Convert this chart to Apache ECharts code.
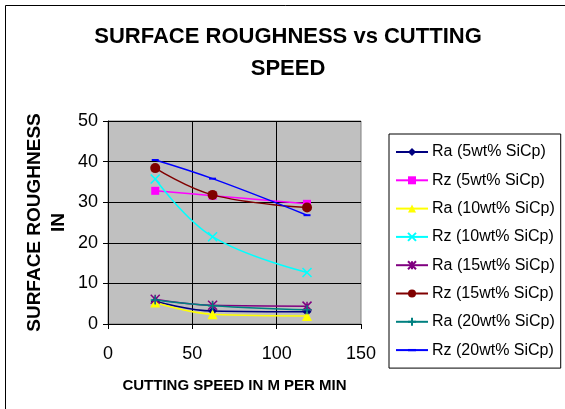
<!DOCTYPE html>
<html>
<head>
<meta charset="utf-8">
<script src="https://cdn.jsdelivr.net/npm/echarts@6/dist/echarts.min.js"></script>
<style>
html,body{margin:0;padding:0;background:#fff;}
#c{width:565px;height:409px;}
</style>
</head>
<body>
<div id="c"></div>
<script>
var speeds = [28, 62, 118];
var seriesNames = ['Ra (5wt% SiCp)', 'Rz (5wt% SiCp)', 'Ra (10wt% SiCp)', 'Rz (10wt% SiCp)', 'Ra (15wt% SiCp)', 'Rz (15wt% SiCp)', 'Ra (20wt% SiCp)', 'Rz (20wt% SiCp)'];
var ra5 = [5.6, 3.2, 3.0];
var rz5 = [32.8, 31.6, 29.6];
var ra10 = [5.3, 2.4, 2.0];
var rz10 = [35.7, 21.5, 12.7];
var ra15 = [6.1, 4.6, 4.4];
var rz15 = [38.4, 31.8, 28.7];
var ra20 = [5.9, 4.5, 3.5];
var rz20 = [40.4, 35.8, 26.8];
var xTicks = [0, 50, 100, 150];
var yTicks = [0, 10, 20, 30, 40, 50];

var values = [ra5, rz5, ra10, rz10, ra15, rz15, ra20, rz20];
var colors = ['#000080', '#FF00FF', '#FFFF00', '#00FFFF', '#800080', '#800000', '#008080', '#0000FF'];
var FONT = 'Arial, "Liberation Sans", sans-serif';
var XPATH = 'path://M0,0L10,10M10,0L0,10';
var STAR = 'path://M0,0L10,10M10,0L0,10M5,0L5,10';
var PLUS = 'path://M5,0L5,10M0,5L10,5';
var DASH = 'path://M0,0M0,2.5L7,2.5L7,4.5L0,4.5ZM7,7';
var symbols = [
  {s: 'diamond', size: 9, stroke: false},
  {s: 'rect', size: 8, stroke: false},
  {s: 'triangle', size: 10, stroke: false},
  {s: XPATH, size: 9, stroke: true},
  {s: STAR, size: 9, stroke: true},
  {s: 'circle', size: 10, stroke: false},
  {s: PLUS, size: 9, stroke: true},
  {s: DASH, size: 7, stroke: false}
];

var series = values.map(function (vals, i) {
  var sym = symbols[i];
  return {
    name: seriesNames[i],
    type: 'line',
    smooth: 0.4,
    data: vals.map(function (v, j) { return [speeds[j], v]; }),
    symbol: sym.s,
    symbolSize: sym.size,
    showSymbol: true,
    lineStyle: {color: colors[i], width: 1.5},
    itemStyle: sym.stroke ? {color: colors[i], borderColor: colors[i], borderWidth: 1.5} : {color: colors[i], borderWidth: 0},
    emphasis: {disabled: true},
    animation: false
  };
});

var chart = echarts.init(document.getElementById('c'), null, {renderer: 'canvas'});
chart.setOption({
  animation: false,
  backgroundColor: '#ffffff',
  graphic: [{
    type: 'rect',
    shape: {x: 5.5, y: 5.5, width: 700, height: 600},
    style: {fill: 'none', stroke: '#000', lineWidth: 1},
    silent: true,
    z: -10
  }],
  title: {
    text: 'SURFACE ROUGHNESS vs CUTTING\nSPEED',
    left: 283,
    textAlign: 'center',
    top: 16,
    textStyle: {fontFamily: FONT, fontWeight: 'bold', fontSize: 22, lineHeight: 32, color: '#000'}
  },
  legend: {
    orient: 'vertical',
    left: 389,
    top: 134,
    padding: [10, 6, 10, 6],
    itemGap: 12.3,
    itemWidth: 32,
    itemHeight: 10,
    borderColor: '#000',
    borderWidth: 1,
    backgroundColor: '#fff',
    textStyle: {fontFamily: FONT, fontSize: 16, lineHeight: 16, color: '#000', padding: [0, 0, 0, -1]},
    data: seriesNames
  },
  grid: {
    left: 108,
    top: 121,
    width: 253,
    height: 203,
    show: true,
    backgroundColor: '#C0C0C0',
    borderColor: '#808080',
    borderWidth: 1
  },
  xAxis: {
    type: 'value',
    min: xTicks[0],
    max: xTicks[xTicks.length - 1],
    interval: 50,
    name: 'CUTTING SPEED IN M PER MIN',
    nameLocation: 'middle',
    nameGap: 54,
    nameTextStyle: {fontFamily: FONT, fontWeight: 'bold', fontSize: 15, color: '#000'},
    axisLine: {show: true, onZero: false, lineStyle: {color: '#000', width: 1}},
    axisTick: {show: true, length: 5, lineStyle: {color: '#000'}},
    axisLabel: {fontFamily: FONT, fontSize: 18, color: '#000', margin: 21},
    splitLine: {show: true, showMinLine: false, showMaxLine: false, lineStyle: {color: '#000', width: 1}}
  },
  yAxis: {
    type: 'value',
    min: yTicks[0],
    max: yTicks[yTicks.length - 1],
    interval: 10,
    name: 'SURFACE ROUGHNESS\nIN',
    nameLocation: 'middle',
    nameGap: 37,
    nameTextStyle: {fontFamily: FONT, fontWeight: 'bold', fontSize: 19, lineHeight: 24, color: '#000'},
    axisLine: {show: true, onZero: false, lineStyle: {color: '#000', width: 1}},
    axisTick: {show: true, length: 5, lineStyle: {color: '#000'}},
    axisLabel: {fontFamily: FONT, fontSize: 18, color: '#000', margin: 10},
    splitLine: {show: true, showMinLine: false, showMaxLine: true, lineStyle: {color: '#000', width: 1}}
  },
  series: series
});
</script>
</body>
</html>
